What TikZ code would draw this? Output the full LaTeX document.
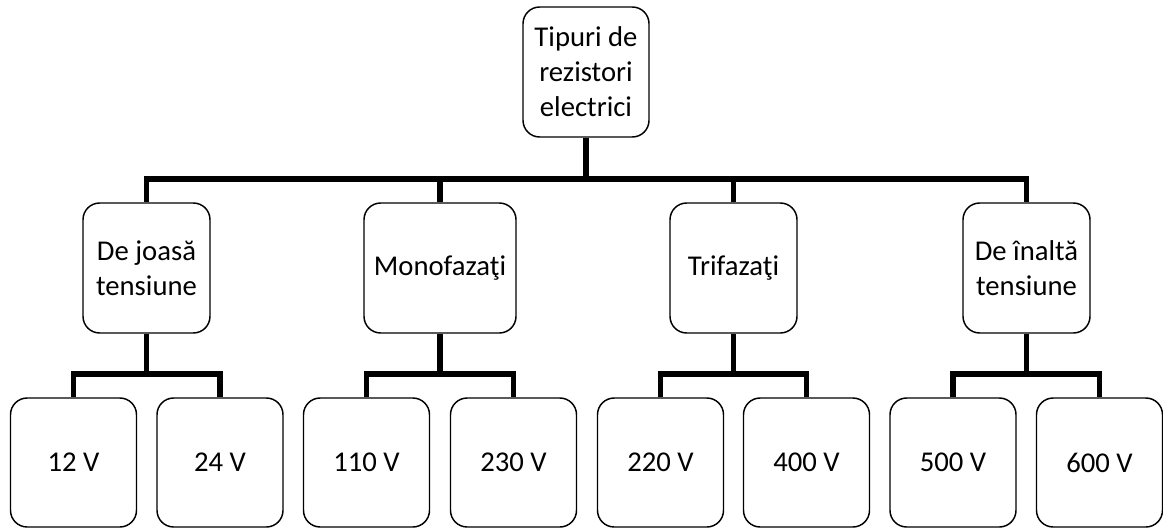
\documentclass[tikz,border=0pt]{standalone}
\usepackage{fontspec}
\setmainfont{Carlito}
\begin{document}
\begin{tikzpicture}[x=0.75pt,y=-0.75pt,
  box/.style={draw=black, line width=1.1pt, rounded corners=12.5pt, align=center,
    inner sep=0pt, font=\fontsize{21.5}{26.3}\selectfont},
  topbox/.style={box, minimum width=94.5pt, minimum height=97.5pt},
  midbox/.style={box, minimum width=95.25pt, minimum height=97.5pt},
  widebox/.style={box, minimum width=114pt, minimum height=97.5pt},
  leafbox/.style={box, minimum width=94.5pt, minimum height=96.75pt},
  conn/.style={draw=black, line width=4pt, line join=miter}]
\useasboundingbox (0,0) rectangle (1163,528);

\node[topbox] (top) at (586,72) {Tipuri de\\rezistori\\electrici};

\node[midbox] (n1) at (146.5,268) {De joasă\\tensiune};
\node[widebox] (n2) at (440,268) {Monofazaţi};
\node[midbox] (n3) at (733.5,268) {Trifazaţi};
\node[midbox] (n4) at (1026.5,268) {De înaltă\\tensiune};

\node[leafbox] (a1) at (73.5,462.5) {12 V};
\node[leafbox] (b1) at (220,462.5) {24 V};
\node[leafbox] (a2) at (366.5,462.5) {110 V};
\node[leafbox] (b2) at (513.5,462.5) {230 V};
\node[leafbox] (a3) at (660.5,462.5) {220 V};
\node[leafbox] (b3) at (806.5,462.5) {400 V};
\node[leafbox] (a4) at (953,462.5) {500 V};
\node[leafbox] (b4) at (1099.5,462.5) {600 V};

\coordinate (j) at (586,179);
\coordinate (s1) at (146.5,374);
\coordinate (s2) at (440,374);
\coordinate (s3) at (733.5,374);
\coordinate (s4) at (1026.5,374);

\draw[conn] (top.south) -- (j);
\draw[conn] (n1.north) |- (j) -| (n4.north);
\draw[conn] (n2.north) -- (n2.north |- j);
\draw[conn] (n3.north) -- (n3.north |- j);

\draw[conn] (n1.south) -- (s1);
\draw[conn] (a1.north) |- (s1) -| (b1.north);
\draw[conn] (n2.south) -- (s2);
\draw[conn] (a2.north) |- (s2) -| (b2.north);
\draw[conn] (n3.south) -- (s3);
\draw[conn] (a3.north) |- (s3) -| (b3.north);
\draw[conn] (n4.south) -- (s4);
\draw[conn] (a4.north) |- (s4) -| (b4.north);
\end{tikzpicture}
\end{document}
